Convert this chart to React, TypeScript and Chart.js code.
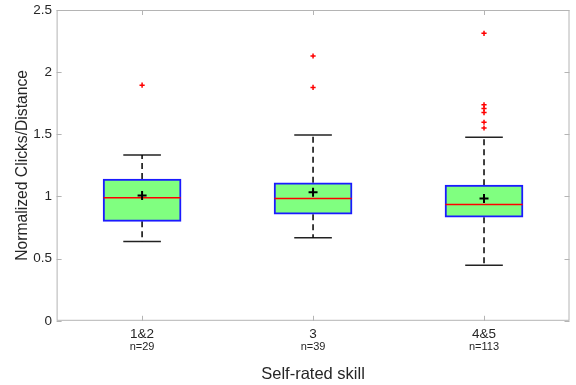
import React, { useEffect, useRef } from "react";
import { Chart, registerables } from "chart.js";

Chart.register(...registerables);

const categories = ["1&2", "3", "4&5"];
const counts = [29, 39, 113];
const q1 = [0.8, 0.857, 0.833];
const q3 = [1.14, 1.11, 1.091];
const medians = [0.99, 0.984, 0.935];
const means = [1.008, 1.035, 0.984];
const whiskerLow = [0.637, 0.669, 0.446];
const whiskerHigh = [1.333, 1.495, 1.476];
const outliers = [
  [1.895],
  [2.13, 1.877],
  [2.312, 1.737, 1.707, 1.675, 1.597, 1.551],
];
const yTicks = [0, 0.5, 1, 1.5, 2, 2.5];

const FONT = "'Liberation Sans', Arial, Helvetica, sans-serif";
const TEXT = "#262626";
const AXIS = "#b4b4b4";

const BOX_HALF = 0.226;
const CAP_HALF = 0.11;

const framePlugin = {
  id: "frame",
  afterDraw(chart: any) {
    const { ctx, chartArea: a, scales } = chart;
    ctx.save();
    ctx.strokeStyle = AXIS;
    ctx.lineWidth = 1;
    ctx.strokeRect(a.left + 0.5, a.top + 0.5, a.right - a.left - 1, a.bottom - a.top - 1);
    const t = 5;
    ctx.beginPath();
    yTicks.forEach((v) => {
      const y = Math.round(scales.y.getPixelForValue(v)) + 0.5;
      ctx.moveTo(a.left, y);
      ctx.lineTo(a.left + t, y);
      ctx.moveTo(a.right, y);
      ctx.lineTo(a.right - t, y);
    });
    categories.forEach((_, i) => {
      const x = Math.round(scales.x.getPixelForValue(i + 1)) + 0.5;
      ctx.moveTo(x, a.bottom);
      ctx.lineTo(x, a.bottom - t);
      ctx.moveTo(x, a.top);
      ctx.lineTo(x, a.top + t);
    });
    ctx.stroke();
    ctx.restore();
  },
};

function seg(x1: number, y1: number, x2: number, y2: number) {
  return [
    { x: x1, y: y1 },
    { x: x2, y: y2 },
  ];
}

const noGrid = { display: false, drawTicks: false, tickLength: 0 };

export default function App() {
  const ref = useRef<HTMLCanvasElement | null>(null);

  useEffect(() => {
    document.body.style.margin = "0";
    const datasets: any[] = [];

    // whiskers (dashed) and caps
    categories.forEach((_, i) => {
      const x = i + 1;
      [seg(x, q3[i], x, whiskerHigh[i]), seg(x, q1[i], x, whiskerLow[i])].forEach((d) =>
        datasets.push({
          type: "line",
          data: d,
          borderColor: "#000",
          borderWidth: 1.5,
          borderDash: [6, 4],
          pointRadius: 0,
          fill: false,
          order: 5,
        })
      );
      [
        seg(x - CAP_HALF, whiskerHigh[i], x + CAP_HALF, whiskerHigh[i]),
        seg(x - CAP_HALF, whiskerLow[i], x + CAP_HALF, whiskerLow[i]),
      ].forEach((d) =>
        datasets.push({
          type: "line",
          data: d,
          borderColor: "#222",
          borderWidth: 1.5,
          pointRadius: 0,
          fill: false,
          order: 5,
        })
      );
    });

    // boxes
    datasets.push({
      type: "bar",
      data: categories.map((_, i) => ({ x: i + 1, y: [q1[i], q3[i]] })),
      backgroundColor: "#80ff80",
      borderColor: "#1a1aff",
      borderWidth: 2,
      borderSkipped: false,
      barThickness: 78,
      grouped: false,
      order: 4,
    });

    // medians
    categories.forEach((_, i) => {
      const x = i + 1;
      datasets.push({
        type: "line",
        data: seg(x - BOX_HALF, medians[i], x + BOX_HALF, medians[i]),
        borderColor: "#ff0000",
        borderWidth: 1.5,
        pointRadius: 0,
        fill: false,
        order: 3,
      });
    });

    // means
    datasets.push({
      type: "scatter",
      data: categories.map((_, i) => ({ x: i + 1, y: means[i] })),
      pointStyle: "cross",
      pointRadius: 4.5,
      borderColor: "#000",
      borderWidth: 2,
      backgroundColor: "#000",
      order: 1,
    });

    // outliers
    datasets.push({
      type: "scatter",
      data: outliers.flatMap((arr, i) => arr.map((v) => ({ x: i + 1, y: v }))),
      pointStyle: "cross",
      pointRadius: 2.6,
      borderColor: "#ff0000",
      borderWidth: 1.5,
      backgroundColor: "#ff0000",
      order: 2,
    });

    const chart = new Chart(ref.current as HTMLCanvasElement, {
      type: "scatter",
      data: { datasets },
      plugins: [framePlugin],
      options: {
        animation: false,
        responsive: false,
        maintainAspectRatio: false,
        layout: { padding: { left: 13, right: 2, top: 10, bottom: 0 } },
        plugins: { legend: { display: false }, tooltip: { enabled: false } },
        scales: {
          x: {
            type: "linear",
            position: "bottom",
            min: 0.5,
            max: 3.5,
            offset: false,
            weight: 0,
            afterBuildTicks: (s: any) => {
              s.ticks = categories.map((_, i) => ({ value: i + 1 }));
            },
            afterFit: (s: any) => {
              s.height -= 7;
              s._computeLabelArea = () => undefined;
            },
            ticks: {
              callback: (v: any) => categories[Number(v) - 1] ?? "",
              color: TEXT,
              font: { family: FONT, size: 13.5 },
              padding: 5,
              maxRotation: 0,
            },
            grid: noGrid,
            border: { display: false },
          },
          x2: {
            type: "linear",
            position: "bottom",
            min: 0.5,
            max: 3.5,
            offset: false,
            weight: 1,
            afterBuildTicks: (s: any) => {
              s.ticks = counts.map((_, i) => ({ value: i + 1 }));
            },
            ticks: {
              callback: (v: any) =>
                counts[Number(v) - 1] !== undefined ? "n=" + counts[Number(v) - 1] : "",
              color: TEXT,
              font: { family: FONT, size: 11 },
              padding: 0,
              maxRotation: 0,
            },
            grid: noGrid,
            border: { display: false },
            title: {
              display: true,
              text: "Self-rated skill",
              color: TEXT,
              font: { family: FONT, size: 16.5 },
              padding: { top: 11, bottom: 1 },
            },
          },
          y: {
            type: "linear",
            min: 0,
            max: 2.5,
            afterBuildTicks: (s: any) => {
              s.ticks = yTicks.map((v) => ({ value: v }));
            },
            afterFit: (s: any) => {
              s.paddingTop = 0;
            },
            ticks: {
              callback: (v: any) => String(v),
              color: TEXT,
              font: { family: FONT, size: 13.5 },
              padding: 4.5,
            },
            grid: noGrid,
            border: { display: false },
            title: {
              display: true,
              text: "Normalized Clicks/Distance",
              color: TEXT,
              font: { family: FONT, size: 15.7 },
              padding: { top: 0, bottom: -3 },
            },
          },
        },
      },
    });
    return () => chart.destroy();
  }, []);

  return (
    <div style={{ width: 576, height: 385 }}>
      <canvas ref={ref} width={576} height={385} style={{ display: "block" }} />
    </div>
  );
}
